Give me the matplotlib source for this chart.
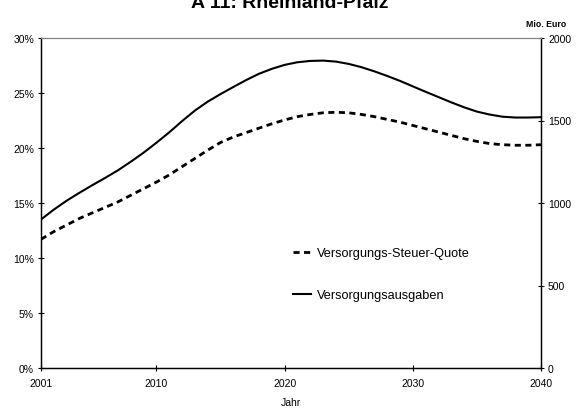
import matplotlib
matplotlib.use("Agg")
import matplotlib.pyplot as plt
from matplotlib.ticker import FuncFormatter

plt.rcParams['font.family'] = ['Liberation Sans', 'DejaVu Sans']

years = list(range(2001, 2041))
quote = [11.7, 12.4, 13.0, 13.6, 14.1, 14.6, 15.1, 15.7, 16.3, 16.9,
         17.55, 18.3, 19.05, 19.8, 20.5, 21.0, 21.4, 21.8, 22.2, 22.55,
         22.85, 23.05, 23.2, 23.25, 23.2, 23.05, 22.85, 22.6, 22.35, 22.05,
         21.75, 21.45, 21.15, 20.85, 20.6, 20.4, 20.3, 20.25, 20.25, 20.3]
ausgaben = [900, 960, 1014, 1062, 1108, 1152, 1198, 1250, 1305, 1365,
            1428, 1496, 1560, 1614, 1660, 1703, 1745, 1783, 1813, 1837,
            1853, 1861, 1863, 1857, 1843, 1823, 1798, 1770, 1740, 1707,
            1674, 1642, 1610, 1580, 1554, 1536, 1523, 1518, 1518, 1520]
xticks = [2001, 2010, 2020, 2030, 2040]
left_ticks = [0, 5, 10, 15, 20, 25, 30]
right_ticks = [0, 500, 1000, 1500, 2000]

fig = plt.figure(figsize=(5.8, 4.1), dpi=100)
ax = fig.add_axes([41/580, 41/410, 500/580, 330/410])
ax2 = ax.twinx()

l1, = ax.plot(years, quote, color='black', lw=2.0, linestyle=(0, (2.2, 1.6)),
              label='Versorgungs-Steuer-Quote')
l2, = ax2.plot(years, ausgaben, color='black', lw=1.5, label='Versorgungsausgaben')

ax.set_xlim(2001, 2040)
ax.set_ylim(0, 30)
ax2.set_ylim(0, 2000)
ax.set_xticks(xticks)
ax.set_yticks(left_ticks)
ax2.set_yticks(right_ticks)
ax.yaxis.set_major_formatter(FuncFormatter(lambda v, p: f"{int(v)}%"))

for a in (ax, ax2):
    a.tick_params(direction='inout', length=5, width=0.8, labelsize=7.5, pad=2.5, colors='black')
    for s in a.spines.values():
        s.set_linewidth(0.9)
    a.spines['top'].set_color('#808080')
    a.spines['top'].set_linewidth(0.8)
ax.tick_params(axis='x', pad=5)

fig.text(291/580, 1 - 403/410, 'Jahr', ha='center', va='center', fontsize=7.5)

fig.text(0.5, 0.981, 'A 11: Rheinland-Pfalz', ha='center', va='baseline',
         fontsize=14, fontweight='bold')
fig.text(0.977, 0.933, 'Mio. Euro', ha='right', va='baseline', fontsize=6.3,
         fontweight='bold')

leg = ax2.legend(handles=[l1, l2], loc='upper left',
                 bbox_to_anchor=(293/580, 1 - 248/410), bbox_transform=fig.transFigure,
                 frameon=False, fontsize=9.2, handlelength=1.4, handletextpad=0.45,
                 labelspacing=2.35, borderpad=0, borderaxespad=0)

fig.savefig('out.png', dpi=100)
